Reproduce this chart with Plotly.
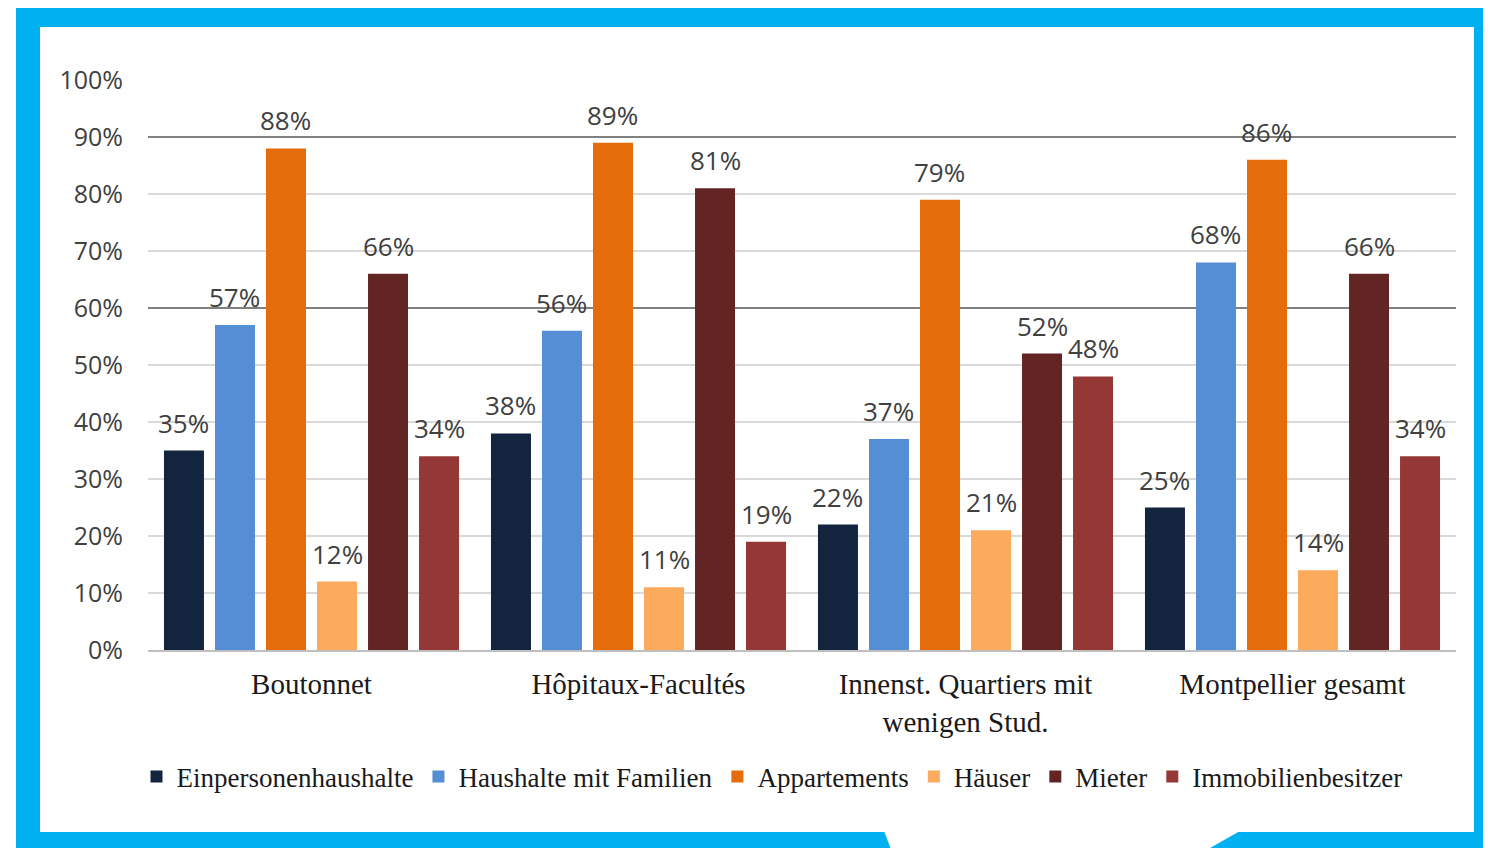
import plotly.graph_objects as go

# ---- data ----
categories = ["Boutonnet", "Hôpitaux-Facultés", "Innenst. Quartiers mit<br>wenigen Stud.", "Montpellier gesamt"]
series_names = ["Einpersonenhaushalte", "Haushalte mit Familien", "Appartements", "Häuser", "Mieter", "Immobilienbesitzer"]
einpersonen = [0.35, 0.38, 0.22, 0.25]
familien = [0.57, 0.56, 0.37, 0.68]
appartements = [0.88, 0.89, 0.79, 0.86]
haeuser = [0.12, 0.11, 0.21, 0.14]
mieter = [0.66, 0.81, 0.52, 0.66]
besitzer = [0.34, 0.19, 0.48, 0.34]
y_ticks = [0, 0.1, 0.2, 0.3, 0.4, 0.5, 0.6, 0.7, 0.8, 0.9, 1.0]
dark_grid_levels = [0.6, 0.9]

values = [einpersonen, familien, appartements, haeuser, mieter, besitzer]
colors = ["#13243F", "#558ED5", "#E46C0A", "#FCAA5C", "#632523", "#953735"]

# page body has an 8px margin -> work in reference pixels, shifted by OFF
OFF = 8
W, H = 1491 - OFF, 848 - OFF
L, R, T, B = 148, 1456, 80, 650  # plot area in reference pixels
BARGAP, BARGROUPGAP = 0.064, 0.216


def px_x(p):
    return (p - L) / (R - L)


def px_y(p):
    return (B - p) / (B - T)


fig = go.Figure()
for name, vals, col in zip(series_names, values, colors):
    fig.add_trace(go.Bar(
        x=categories, y=vals, name=name,
        marker=dict(color=col, line=dict(width=0)),
        hovertemplate="%{y:.0%}<extra>" + name + "</extra>",
    ))
# empty helper trace so the overlay axis (darker gridlines) is drawn
fig.add_trace(go.Scatter(x=[], y=[], yaxis="y2", showlegend=False, hoverinfo="skip"))

# data labels (placed above each bar)
n = len(values)
slot_px = (R - L) / len(categories) * (1 - BARGAP) / n
annotations = []
for j, vals in enumerate(values):
    for cat, v in zip(categories, vals):
        annotations.append(dict(
            x=cat, y=v, xref="x", yref="y", text=f"{round(v*100)}%",
            showarrow=False, xshift=(j - (n - 1) / 2) * slot_px, yshift=28,
            yanchor="middle", xanchor="center",
            font=dict(family="Open Sans", size=26, color="#404040"),
        ))

shapes = [
    # blue frame
    dict(type="rect", xref="paper", yref="paper", x0=px_x(16), x1=px_x(1495), y0=px_y(852), y1=px_y(3),
         fillcolor="#00B0F0", line=dict(width=0), layer="below"),
    dict(type="rect", xref="paper", yref="paper", x0=px_x(40), x1=px_x(1474), y0=px_y(832), y1=px_y(27),
         fillcolor="white", line=dict(width=0), layer="below"),
    dict(type="path", xref="paper", yref="paper",
         path=f"M{px_x(884)},{px_y(831)} L{px_x(1240)},{px_y(831)} L{px_x(1203)},{px_y(852)} L{px_x(892)},{px_y(852)} Z",
         fillcolor="white", line=dict(width=0), layer="below"),
]

fig.update_layout(
    width=W, height=H,
    margin=dict(l=L - OFF, r=W - (R - OFF), t=T - OFF, b=H - (B - OFF), pad=0),
    paper_bgcolor="white",
    plot_bgcolor="rgba(0,0,0,0)",
    barmode="group",
    bargap=BARGAP,
    bargroupgap=BARGROUPGAP,
    shapes=shapes,
    annotations=annotations,
    showlegend=True,
    legend=dict(orientation="h", x=px_x(772), xanchor="center", y=px_y(777), yanchor="middle",
                font=dict(family="Liberation Serif", size=27, color="#1a1a1a"),
                traceorder="normal", itemclick=False, bgcolor="rgba(0,0,0,0)"),
    xaxis=dict(showgrid=False, showline=True, linecolor="#BFBFBF", linewidth=2,
               tickfont=dict(family="Liberation Serif", size=29, color="#1a1a1a"),
               ticks="", ticklabelstandoff=7),
    yaxis=dict(range=[0, 1.0], tickvals=y_ticks, tickformat=".0%",
               showgrid=True, gridcolor="#D9D9D9", gridwidth=2, zeroline=False,
               showline=False, ticks="", ticklabelstandoff=24,
               tickfont=dict(family="Open Sans", size=25, color="#404040")),
    yaxis2=dict(range=[0, 1.0], overlaying="y", anchor="x", side="left",
                tickvals=dark_grid_levels, showticklabels=False, ticks="",
                showgrid=True, gridcolor="#808080", gridwidth=2, zeroline=False, showline=False),
)

fig.write_html("out.html")
